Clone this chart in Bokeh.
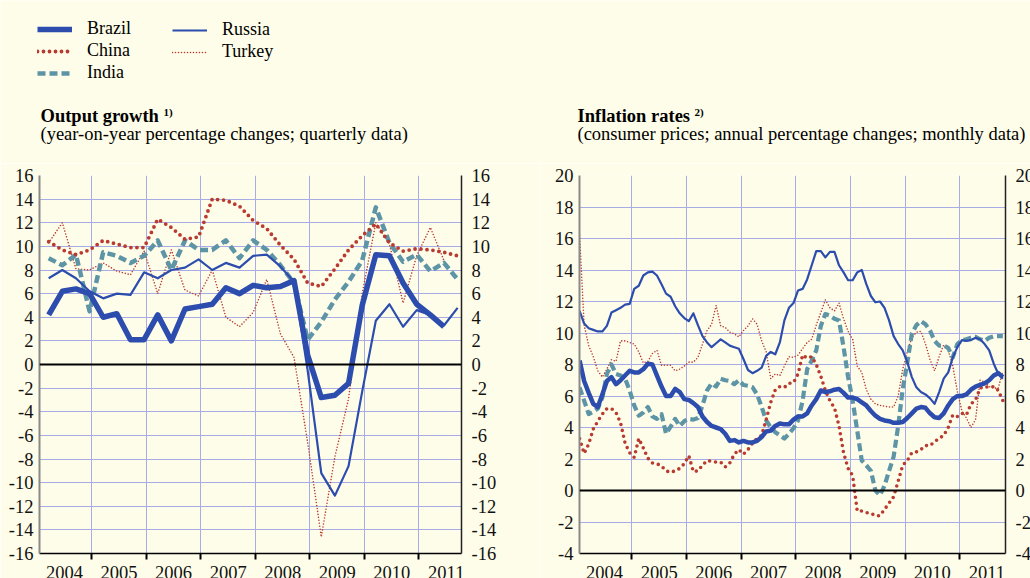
from bokeh.plotting import figure
from bokeh.models import Range1d, FixedTicker, LinearAxis, Label, Legend, LegendItem, Span
from bokeh.layouts import row, column
from bokeh.embed import file_html
from bokeh.resources import INLINE

# ---------------- data ----------------
years = list(range(2004, 2012))
year_labels = [str(y) for y in years]
quarters = [f"{y}Q{q}" for y in years for q in (1, 2, 3, 4)][:31]
months = [f"{y}-{m:02d}" for y in years for m in range(1, 13)][:94]

# Output growth, quarterly (2004Q1 ...)
brazil_q = [4.2, 6.2, 6.4, 6.0, 4.0, 4.3, 2.1, 2.1, 4.2, 2.0, 4.7, 4.9, 5.1, 6.5, 6.0,
            6.7, 6.5, 6.6, 7.1, 0.8, -2.8, -2.6, -1.6, 5.0, 9.3, 9.2, 6.9, 5.1, 4.2, 3.2]
russia_q = [7.3, 8.0, 7.3, 6.2, 5.6, 6.0, 5.9, 7.8, 7.3, 8.0, 8.2, 8.9, 8.0, 8.6, 8.2,
            9.2, 9.3, 8.3, 7.0, -0.5, -9.2, -11.1, -8.6, -2.3, 3.7, 5.1, 3.2, 4.6, 4.2, 3.3, 4.8]
china_q = [10.4, 9.7, 9.3, 9.7, 10.5, 10.2, 9.9, 9.9, 12.3, 11.6, 10.6, 10.8, 14.0, 13.9, 13.4,
           12.2, 11.5, 10.1, 8.9, 6.9, 6.6, 8.1, 9.7, 10.9, 11.9, 10.3, 9.6, 9.8, 9.7, 9.5, 9.2]
india_q = [9.0, 8.4, 9.3, 4.5, 9.5, 9.2, 8.6, 9.2, 10.5, 8.0, 10.5, 9.7, 9.7, 10.5, 9.0,
           10.5, 9.7, 8.4, 6.9, 2.1, 3.6, 5.5, 7.0, 8.8, 13.3, 10.3, 8.7, 9.3, 7.9, 8.6, 7.2]
turkey_q = [10.3, 12.0, 8.1, 8.0, 8.6, 7.9, 7.6, 9.6, 6.0, 9.7, 6.3, 5.8, 8.0, 4.0, 3.2,
            4.4, 7.2, 2.6, 0.6, -6.6, -14.6, -7.8, -2.9, 6.0, 12.0, 10.2, 5.2, 9.2, 11.6, 8.8]

# Inflation rates, monthly (2004-01 ...)
brazil_m = [8.25, 6.95, 6.2, 5.5, 5.3, 6.1, 6.95, 7.2, 6.75, 7.0, 7.3, 7.6,
            7.5, 7.5, 7.7, 8.05, 8.0, 7.3, 6.6, 6.0, 6.0, 6.45, 6.25, 5.8,
            5.75, 5.55, 5.3, 4.7, 4.35, 4.1, 4.0, 3.9, 3.6, 3.15, 3.2, 3.05,
            3.15, 3.05, 3.05, 3.15, 3.4, 3.75, 3.8, 4.1, 4.25, 4.2, 4.2, 4.5,
            4.7, 4.7, 4.9, 5.4, 5.8, 6.35, 6.25, 6.3, 6.4, 6.45, 6.2, 5.9,
            5.9, 5.8, 5.6, 5.4, 5.05, 4.75, 4.55, 4.45, 4.4, 4.3, 4.3, 4.35,
            4.6, 4.9, 5.2, 5.3, 5.25, 4.9, 4.65, 4.6, 4.9, 5.4, 5.8, 6.0,
            6.0, 6.1, 6.4, 6.6, 6.7, 6.8, 7.0, 7.3, 7.45, 7.2]
russia_m = [11.4, 10.6, 10.3, 10.2, 10.1, 10.1, 10.45, 11.3, 11.45, 11.6, 11.8, 11.85,
            12.8, 13.0, 13.65, 13.85, 13.9, 13.65, 13.1, 12.5, 12.3, 11.7, 11.25, 10.95,
            10.75, 11.25, 10.5, 9.8, 9.4, 9.1, 9.35, 9.6, 9.4, 9.2, 9.1, 9.0,
            8.35, 7.65, 7.45, 7.6, 7.8, 8.55, 8.8, 8.65, 9.4, 10.8, 11.6, 11.9,
            12.7, 12.8, 13.4, 14.3, 15.2, 15.2, 14.8, 15.15, 15.15, 14.3, 13.85, 13.35,
            13.35, 13.85, 14.0, 13.1, 12.35, 11.95, 12.0, 11.6, 10.8, 9.8, 9.3, 8.9,
            8.15, 7.2, 6.55, 6.25, 6.1, 5.85, 5.5, 6.25, 7.1, 7.5, 8.45, 9.1,
            9.55, 9.5, 9.55, 9.7, 9.6, 9.3, 8.9, 8.05, 7.4, 7.1]
india_m = [6.55, 5.7, 4.85, 5.0, 5.2, 5.9, 7.4, 8.0, 7.4, 7.3, 7.1, 6.35,
           5.4, 4.75, 4.95, 5.3, 4.7, 4.55, 4.85, 3.6, 4.05, 4.55, 4.1, 4.4,
           4.55, 4.5, 4.6, 5.4, 6.35, 6.8, 6.6, 7.1, 7.0, 6.95, 6.75, 7.0,
           6.7, 6.65, 6.55, 6.1, 5.3, 4.45, 4.0, 3.7, 3.5, 3.3, 3.6, 3.95,
           4.45, 5.7, 7.7, 8.25, 8.9, 10.45, 11.2, 11.1, 10.9, 10.8, 9.1, 7.2,
           5.7, 3.8, 1.9, 1.6, 1.25, 0.0, -0.3, 0.3, 1.25, 2.15, 4.1, 6.45,
           8.1, 9.95, 10.5, 10.75, 10.55, 10.15, 9.5, 9.2, 9.2, 9.05, 8.45, 9.3,
           9.55, 9.6, 9.7, 9.75, 9.6, 9.5, 9.7, 9.8, 9.8, 9.8]
china_m = [3.3, 2.35, 2.95, 3.9, 4.4, 4.85, 5.2, 5.2, 4.95, 4.3, 3.0, 2.4,
           2.1, 3.3, 2.7, 2.05, 1.75, 1.7, 1.55, 1.25, 1.15, 1.25, 1.4, 1.7,
           2.2, 1.2, 1.25, 1.6, 1.9, 1.85, 1.8, 1.8, 1.5, 1.75, 2.3, 2.6,
           2.3, 2.6, 3.0, 3.3, 3.5, 4.5, 5.6, 6.4, 6.6, 6.55, 6.8, 6.85,
           7.4, 8.6, 8.4, 8.5, 8.0, 7.25, 6.35, 5.7, 5.25, 4.1, 2.4, 1.4,
           0.95, -1.3, -1.3, -1.4, -1.45, -1.6, -1.6, -1.2, -0.8, -0.4, 0.6, 1.6,
           1.9, 2.4, 2.45, 2.6, 2.85, 2.85, 3.1, 3.3, 3.5, 4.0, 4.8, 4.7,
           4.9, 4.8, 5.5, 5.75, 6.5, 6.6, 6.55, 6.6, 6.35, 5.7]
turkey_m = [16.2, 10.5, 9.2, 8.5, 7.6, 7.2, 7.7, 8.3, 8.2, 9.5, 9.5, 9.4,
            9.3, 8.8, 8.1, 8.2, 8.7, 8.9, 7.95, 7.95, 7.95, 7.6, 7.7, 7.9,
            8.15, 8.15, 8.45, 9.3, 10.15, 10.55, 11.75, 10.45, 10.35, 10.05, 9.95, 9.75,
            10.15, 10.45, 10.9, 10.55, 9.5, 8.8, 7.1, 7.4, 7.3, 7.9, 8.5, 8.45,
            8.6, 9.0, 9.4, 9.6, 10.5, 11.3, 12.1, 11.6, 11.4, 11.9, 10.9, 10.1,
            9.6, 7.9, 7.5, 6.4, 5.8, 5.5, 5.4, 5.35, 5.3, 5.3, 6.0, 7.7,
            8.8, 9.7, 10.05, 10.1, 9.3, 8.3, 7.6, 8.5, 9.25, 8.9, 7.9, 6.3,
            5.05, 4.6, 4.0, 4.5, 7.0, 6.9, 6.6, 6.5, 6.5, 7.6]

series_names = ["Brazil", "China", "India", "Russia", "Turkey"]


def q_pos(lbl):
    return int(lbl[:4]) + (3 * int(lbl[-1]) - 0.5) / 12


def m_pos(lbl):
    return int(lbl[:4]) + (int(lbl[5:]) - 0.5) / 12


qx = [q_pos(q) for q in quarters]
mx = [m_pos(m) for m in months]

# ---------------- style ----------------
FONT = "Liberation Serif"
BG = "#FEFDE9"
GRID = "#A7ABE6"
BLUE = "#2C4DAD"
RED = "#B93A30"
TEAL = "#5D94A6"
FS = "18.5px"

STY = {
    "Brazil": dict(line_color=BLUE, line_width=5.5, line_join="round"),
    "China": dict(line_color=RED, line_width=3.8, line_dash="0 6", line_cap="round", line_join="round"),
    "India": dict(line_color=TEAL, line_width=4.5, line_dash="8 4", line_join="round"),
    "Russia": dict(line_color=BLUE, line_width=2.2, line_join="round"),
    "Turkey": dict(line_color=RED, line_width=1.6, line_dash="0 3", line_cap="round", line_join="round"),
}

HEAD_H = 163
TOP = 12


def base_fig(x_end, y0, y1, frame_w, left_border, right_border):
    p = figure(frame_width=frame_w, frame_height=378,
               x_range=Range1d(2004.04, x_end), y_range=Range1d(y0, y1),
               output_backend="svg", toolbar_location=None,
               min_border_left=left_border, min_border_right=right_border,
               min_border_top=TOP, min_border_bottom=10,
               background_fill_color=BG, border_fill_color=BG,
               outline_line_color=None)
    yt = list(range(y0, y1 + 1, 2))
    over = {v: str(v) for v in yt}

    ax = p.yaxis[0]
    ax.ticker = FixedTicker(ticks=yt)
    ax.major_label_overrides = over
    ax.major_tick_line_color = None
    ax.major_tick_out = 0
    ax.major_tick_in = 0
    ax.minor_tick_line_color = None
    ax.axis_line_color = "#8A8A8A"
    ax.axis_line_width = 2
    ax.major_label_standoff = 6
    ax.major_label_text_font = FONT
    ax.major_label_text_font_size = FS
    ax.major_label_text_color = "#111111"

    rax = LinearAxis(ticker=FixedTicker(ticks=yt), major_label_overrides=over,
                     major_tick_line_color=None, major_tick_out=0, major_tick_in=0,
                     minor_tick_line_color=None, axis_line_color="#222222",
                     axis_line_width=1.5, major_label_standoff=10,
                     major_label_text_font=FONT, major_label_text_font_size=FS,
                     major_label_text_color="#111111")
    p.add_layout(rax, "right")

    xa = p.xaxis[0]
    xa.ticker = FixedTicker(ticks=[y + 0.5 for y in years],
                            minor_ticks=years + [years[-1] + 1])
    xa.major_label_overrides = {y + 0.5: lbl for y, lbl in zip(years, year_labels)}
    xa.major_tick_line_color = None
    xa.major_tick_out = 0
    xa.major_tick_in = 0
    xa.minor_tick_line_color = "black"
    xa.minor_tick_line_width = 2
    xa.minor_tick_out = 6
    xa.minor_tick_in = 0
    xa.axis_line_color = "black"
    xa.axis_line_width = 1.5
    xa.major_label_standoff = 6
    xa.major_label_text_font = FONT
    xa.major_label_text_font_size = FS
    xa.major_label_text_color = "#111111"

    p.xgrid.ticker = FixedTicker(ticks=years[1:])
    p.ygrid.ticker = FixedTicker(ticks=yt)
    p.xgrid.grid_line_color = GRID
    p.ygrid.grid_line_color = GRID
    p.xgrid.grid_line_width = 1
    p.ygrid.grid_line_width = 1

    p.add_layout(Span(location=0, dimension="width", line_color="black", line_width=1.8))
    return p


# ---------------- left: output growth ----------------
left = base_fig(2011.78, -16, 16, 422, 39, 79)
q_data = {"Brazil": brazil_q, "China": china_q, "India": india_q,
          "Russia": russia_q, "Turkey": turkey_q}
for name in ["Turkey", "India", "China", "Russia", "Brazil"]:
    vals = q_data[name]
    left.line(qx[:len(vals)], vals, **STY[name])

# ---------------- right: inflation ----------------
right = base_fig(2011.84, -4, 20, 426, 39, 28)
m_data = {"Brazil": brazil_m, "China": china_m, "India": india_m,
          "Russia": russia_m, "Turkey": turkey_m}
for name in ["Turkey", "India", "China", "Russia", "Brazil"]:
    vals = m_data[name]
    sty = dict(STY[name])
    if name == "Brazil":
        sty["line_width"] = 4.5
    if name == "India":
        sty["line_width"] = 4.2
    if name == "China":
        sty["line_width"] = 3.6
    right.line(mx[:len(vals)], vals, **sty)

# ---------------- header: legend + titles ----------------
head = figure(width=1030, height=HEAD_H, x_range=Range1d(0, 1), y_range=Range1d(0, 1),
              output_backend="svg", toolbar_location=None, min_border=0,
              background_fill_color=BG, border_fill_color=BG, outline_line_color=None)
head.axis.visible = False
head.grid.visible = False
# legend sample renderers (their points lie outside the visible range)
leg_r = {name: head.line([5, 6], [5, 6], **STY[name]) for name in series_names}

leg_kw = dict(orientation="vertical", padding=0, margin=0, spacing=1,
              glyph_width=35, glyph_height=20, label_height=20, label_standoff=15,
              border_line_color=None, background_fill_alpha=0,
              label_text_font=FONT, label_text_font_size="18px", label_text_color="black")
leg1 = Legend(items=[LegendItem(label=n, renderers=[leg_r[n]]) for n in series_names[:3]],
              location=(37, HEAD_H - 83), **leg_kw)
leg2 = Legend(items=[LegendItem(label=n, renderers=[leg_r[n]]) for n in series_names[3:]],
              location=(172, HEAD_H - 62), **leg_kw)
head.add_layout(leg1)
head.add_layout(leg2)


def title(p, x, text, sup, sup_dx, sub):
    p.add_layout(Label(x=x, y=HEAD_H - 115, x_units="screen", y_units="screen", text=text,
                       text_font=FONT, text_font_style="bold", text_font_size=FS,
                       text_baseline="middle", text_color="black"))
    p.add_layout(Label(x=x + sup_dx, y=HEAD_H - 111, x_units="screen", y_units="screen", text=sup,
                       text_font=FONT, text_font_style="bold", text_font_size="11px",
                       text_baseline="middle", text_color="black"))
    p.add_layout(Label(x=x, y=HEAD_H - 133, x_units="screen", y_units="screen", text=sub,
                       text_font=FONT, text_font_size=FS,
                       text_baseline="middle", text_color="black"))


title(head, 40, "Output growth", "1)", 123,
      "(year-on-year percentage changes; quarterly data)")
title(head, 577, "Inflation rates", "2)", 117,
      "(consumer prices; annual percentage changes; monthly data)")

layout = column(head, row(left, right, spacing=0), spacing=0)
open("out.html", "w").write(file_html(layout, INLINE))
